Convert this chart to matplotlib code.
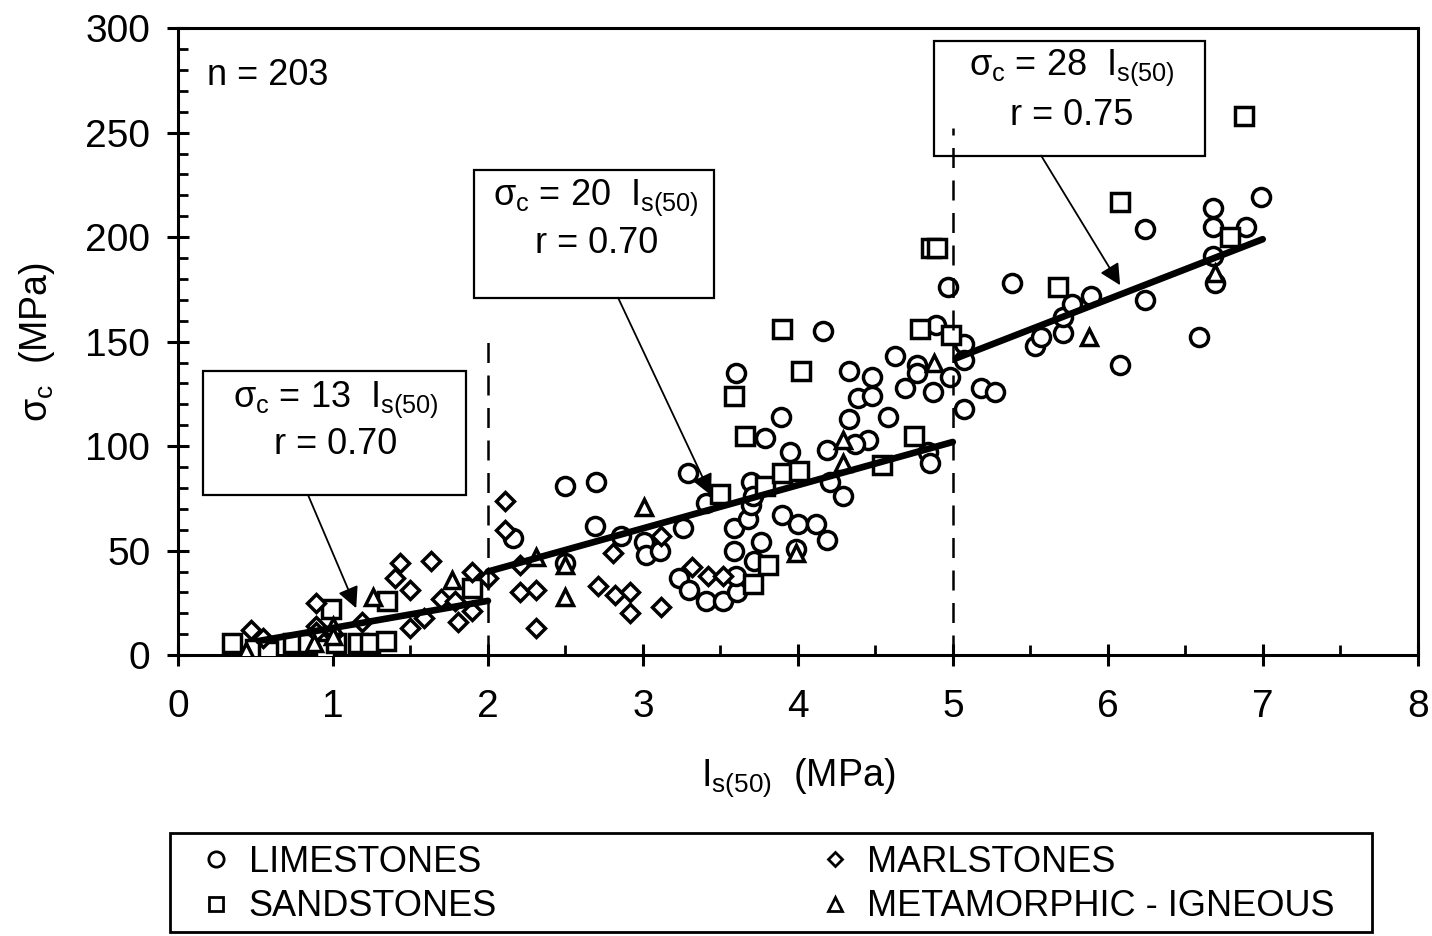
import matplotlib
matplotlib.use("Agg")
import matplotlib.pyplot as plt
from matplotlib.lines import Line2D
from matplotlib.patches import Rectangle
from matplotlib.ticker import MultipleLocator

plt.rcParams["font.family"] = ["Liberation Sans", "DejaVu Sans"]
plt.rcParams["mathtext.fontset"] = "custom"
plt.rcParams["mathtext.rm"] = "Liberation Sans"
plt.rcParams["mathtext.it"] = "Liberation Sans"
plt.rcParams["mathtext.bf"] = "Liberation Sans:bold"

# data (Is(50) in MPa, sigma_c in MPa)
limestone_x = [2.16, 2.50, 2.70, 2.69, 2.86, 3.01, 3.02, 3.11, 3.26, 3.29,
               3.41, 3.23, 3.30, 3.41, 3.52, 3.61, 3.59, 3.59, 3.68, 3.70,
               3.70, 3.76, 3.90, 4.00, 4.12, 4.19, 3.60, 3.72, 3.95, 3.99,
               3.71, 4.16, 3.60, 3.89, 3.79, 4.33, 4.48, 4.39, 4.48, 4.33,
               4.58, 4.45, 4.37, 4.19, 4.63, 4.77, 4.77, 4.69, 4.87, 4.98,
               5.07, 5.07, 5.07, 4.89, 4.84, 4.85, 4.21, 4.29, 5.18, 5.27,
               4.97, 5.38, 5.53, 5.57, 5.71, 5.71, 5.77, 5.89, 6.08, 6.24,
               6.24, 6.59, 6.68, 6.68, 6.68, 6.69, 6.89, 6.99, 2.50]
limestone_y = [56, 81, 83, 62, 57, 54, 48, 50, 61, 87,
               73, 37, 31, 26, 26, 30, 50, 61, 65, 72,
               83, 54, 67, 63, 63, 55, 38, 45, 97, 51,
               76, 155, 135, 114, 104, 136, 133, 123, 124, 113,
               114, 103, 101, 98, 143, 139, 135, 128, 126, 133,
               149, 141, 118, 158, 97, 92, 83, 76, 128, 126,
               176, 178, 148, 152, 154, 162, 168, 172, 139, 170,
               204, 152, 214, 205, 191, 178, 205, 219, 44]

sandstone_x = [0.35, 0.50, 0.58, 0.74, 0.84, 0.95, 0.99, 1.02, 1.16, 1.24,
               1.34, 1.35, 1.90, 3.50, 3.79, 3.90, 3.81, 3.71, 3.90, 4.02,
               3.59, 3.66, 4.79, 4.99, 4.75, 4.54, 4.01, 4.86, 4.90, 5.68,
               6.08, 6.79, 6.88]
sandstone_y = [6, 3, 2, 6, 6, 3, 22, 6, 6, 6,
               7, 26, 32, 77, 81, 87, 43, 34, 156, 136,
               124, 105, 156, 153, 105, 91, 88, 195, 195, 176,
               217, 200, 258]

marlstone_x = [0.47, 0.55, 0.89, 0.89, 0.89, 1.00, 1.19, 1.40, 1.43, 1.50,
               1.50, 1.59, 1.63, 1.70, 1.79, 1.81, 1.90, 1.90, 2.00, 2.11,
               2.11, 2.21, 2.21, 2.31, 2.31, 2.71, 2.81, 2.82, 2.92, 2.92,
               3.12, 3.12, 3.32, 3.42, 3.52]
marlstone_y = [12, 8, 25, 14, 11, 10, 16, 37, 44, 31,
               13, 18, 45, 27, 26, 16, 40, 21, 37, 74,
               60, 43, 30, 31, 13, 33, 49, 29, 30, 20,
               23, 57, 42, 38, 38]

meta_x = [0.44, 0.88, 1.00, 1.00, 1.26, 1.77, 2.31, 2.50, 2.50, 3.01,
          3.99, 4.29, 4.29, 4.88, 5.88, 6.69]
meta_y = [2, 6, 14, 9, 28, 36, 47, 43, 28, 71,
          49, 103, 92, 140, 152, 183]

# regression segments (end points)
fit1_x = [0.52, 2.0]
fit1_y = [6.8, 26]
fit2_x = [2.0, 5.0]
fit2_y = [40, 102]
fit3_x = [5.02, 7.0]
fit3_y = [142, 199]

# dashed class limits
limit_x = [2.0, 5.0]
limit_top = [151, 252]

fig = plt.figure(figsize=(14.32, 9.36), dpi=100)
ax = fig.add_axes([0.1243, 0.300, 0.8657, 0.670])

mk = dict(ls="none", mfc="white", mec="black", mew=2.5)
ax.plot(limestone_x, limestone_y, marker="o", ms=13, zorder=3, **mk)
ax.plot(sandstone_x, sandstone_y, marker="s", ms=12.5, zorder=3, **mk)
ax.plot(marlstone_x, marlstone_y, marker="D", ms=9.5, zorder=3, **mk)
ax.plot(meta_x, meta_y, marker="^", ms=12, zorder=3, **mk)

for fx, fy in [(fit1_x, fit1_y), (fit2_x, fit2_y), (fit3_x, fit3_y)]:
    ax.plot(fx, fy, color="black", lw=4.8, solid_capstyle="round", zorder=5)

for lx, top in zip(limit_x, limit_top):
    ax.plot([lx, lx], [0, top], color="black", lw=1.8, ls=(0, (8, 5)), zorder=6)

# equation boxes
boxes = [
    ((0.16, 76.5), 1.70, 59.5, 1.02, 122, 101, "13", "0.70", (0.84, 76.5), (1.15, 22.5)),
    ((1.91, 171), 1.55, 61, 2.70, 219, 197, "20", "0.70", (2.84, 171), (3.44, 76.5)),
    ((4.88, 239), 1.75, 55, 5.77, 281, 258, "28", "0.75", (5.57, 239), (6.08, 177)),
]
for (x0, y0), w, h, tx, ty1, ty2, k, r, a0, a1 in boxes:
    ax.add_patch(Rectangle((x0, y0), w, h, facecolor="white", edgecolor="black",
                           lw=1.6, zorder=4))
    ax.text(tx, ty1, r"$\sigma_c$ = " + k + r"  I$_{s(50)}$", ha="center", va="center",
            fontsize=26, zorder=7)
    ax.text(tx, ty2, "r = " + r, ha="center", va="center", fontsize=26, zorder=7)
    ax.annotate("", xy=a1, xytext=a0,
                arrowprops=dict(arrowstyle="-|>", color="black", lw=1.3,
                                mutation_scale=32, shrinkA=0, shrinkB=0),
                zorder=7)

ax.text(0.19, 273, "n = 203", ha="left", va="baseline", fontsize=26)

ax.set_xlim(0, 8)
ax.set_ylim(0, 300)
ax.xaxis.set_major_locator(MultipleLocator(1))
ax.xaxis.set_minor_locator(MultipleLocator(0.5))
ax.yaxis.set_major_locator(MultipleLocator(50))
ax.yaxis.set_minor_locator(MultipleLocator(10))
ax.tick_params(which="major", direction="inout", length=16, width=2.2,
               labelsize=28, top=False, right=False)
ax.tick_params(axis="x", which="major", pad=16)
ax.tick_params(axis="y", which="major", pad=12)
ax.tick_params(which="minor", direction="in", length=7, width=2.0,
               top=False, right=False)
for s in ax.spines.values():
    s.set_linewidth(2.2)

ax.set_xlabel(r"I$_{s(50)}$  (MPa)", fontsize=27)
ax.set_ylabel(r"$\sigma_c$  (MPa)", fontsize=27)
ax.xaxis.set_label_coords(0.5, -0.162)
ax.yaxis.set_label_coords(-0.098, 0.5)

# legend: frame drawn as a rectangle, entries placed by the legend
fig.add_artist(Rectangle((170 / 1432, 4 / 936), 1202 / 1432, 99 / 936,
                         transform=fig.transFigure, facecolor="white",
                         edgecolor="black", lw=2.0))
hk = dict(ls="none", mfc="white", mec="black", mew=2.0)
handles = [
    Line2D([], [], marker="o", ms=11, **hk),
    Line2D([], [], marker="s", ms=10.5, **hk),
    Line2D([], [], marker="D", ms=7.5, **hk),
    Line2D([], [], marker="^", ms=10.5, **hk),
]
labels = ["LIMESTONES", "SANDSTONES", "MARLSTONES", "METAMORPHIC - IGNEOUS"]
leg = fig.legend(handles, labels, ncol=2, loc="upper left",
                 bbox_to_anchor=(200 / 1432, 1 - 845 / 936),
                 fontsize=26, frameon=False, borderaxespad=0, borderpad=0,
                 handlelength=0.9, handletextpad=0.45, labelspacing=0.26,
                 columnspacing=8.9)

fig.savefig("out.png", dpi=100)
